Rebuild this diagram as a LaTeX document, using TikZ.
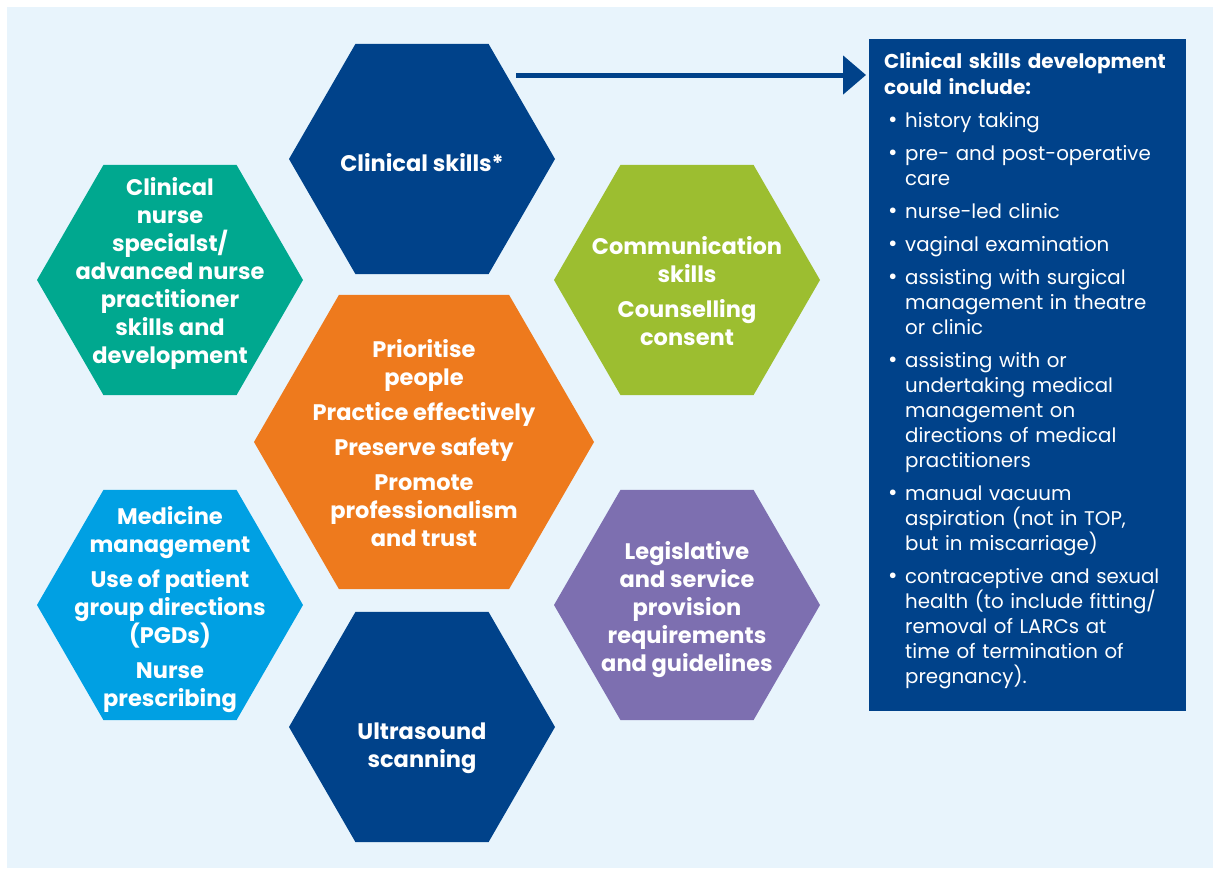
\documentclass[tikz,border=0pt]{standalone}
\usepackage{fontspec}
\setmainfont{Poppins}
\usetikzlibrary{shapes.geometric,arrows.meta,calc}
\definecolor{dblue}{HTML}{00428A}
\definecolor{teal2}{HTML}{00A88F}
\definecolor{green2}{HTML}{9CBE30}
\definecolor{orange2}{HTML}{EE7A1D}
\definecolor{lblue}{HTML}{00A0E3}
\definecolor{purple2}{HTML}{7D6FB0}
\definecolor{bgc}{HTML}{E8F4FC}
\newcommand\bitem[1]{\par\vspace{8pt}\leftskip=21pt\noindent\llap{\hbox to 21pt{\hskip4pt{\fontsize{23}{25}\selectfont\textbullet}\hfil}}#1\par}
\tikzset{
  hex/.style={regular polygon, regular polygon sides=6, minimum size=266pt, inner sep=0pt, draw=none},
  hextext/.style={align=center, text=white, inner sep=0pt, font=\bfseries\fontsize{22.5}{28}\selectfont},
  arr/.style={line width=5pt, draw=dblue, -{Triangle[length=23pt,width=38pt]}, shorten >=3pt}
}
\begin{document}
\begin{tikzpicture}[x=1pt,y=-1pt]
\useasboundingbox (0,0) rectangle (1213,868);
\fill[bgc] (7,7) rectangle (1213,868);
% hexagons
\node[hex, fill=dblue] (cs) at (422,159) {};
\node[hex, fill=teal2] (cns) at (170,280) {};
\node[hex, fill=green2] (com) at (687,280) {};
\node[hex, fill=orange2, minimum size=340pt] (core) at (424,442) {};
\node[hex, fill=lblue] (med) at (170,605) {};
\node[hex, fill=purple2] (leg) at (687,605) {};
\node[hex, fill=dblue] (us) at (422,727) {};
% texts
\node[hextext] (tcs) at (422,163) {Clinical skills*};
\node[hextext] (tcns) at (170,273) {Clinical\\nurse\\specialst/\\advanced nurse\\practitioner\\skills and\\development};
\node[hextext] (tcom) at (687,291) {Communication\\skills\\[7pt]Counselling\\consent};
\node[hextext] (tcore) at (424,443) {Prioritise\\people\\[7pt]Practice effectively\\[7pt]Preserve safety\\[7pt]Promote\\professionalism\\and trust};
\node[hextext] (tmed) at (170,610) {Medicine\\management\\[7pt]Use of patient\\group directions\\(PGDs)\\[7pt]Nurse\\prescribing};
\node[hextext] (tleg) at (687,610) {Legislative\\and service\\provision\\requirements\\and guidelines};
\node[hextext] (tus) at (422,748) {Ultrasound\\scanning};
% box
\node[fill=dblue, anchor=north west, minimum width=317pt, minimum height=672pt, inner sep=0pt] (box) at (869,39) {};
\node[anchor=north west, text width=300pt, align=left, inner sep=0pt, text=white, font=\fontsize{19.8}{25}\selectfont] (boxtext) at (884,52)
{{\bfseries\fontsize{20}{26}\selectfont Clinical skills development\\could include:\par}
\bitem{history taking}
\bitem{pre- and post-operative\\care}
\bitem{nurse-led clinic}
\bitem{vaginal examination}
\bitem{assisting with surgical\\management in theatre\\or clinic}
\bitem{assisting with or\\undertaking medical\\management on\\directions of medical\\practitioners}
\bitem{manual vacuum\\aspiration (not in TOP,\\but in miscarriage)}
\bitem{contraceptive and sexual\\health (to include fitting/\\removal of LARCs at\\time of termination of\\pregnancy).}};
% arrow
\coordinate (a0) at (516,75);
\draw[arr] (a0) -- (box.west |- a0);
\end{tikzpicture}
\end{document}
